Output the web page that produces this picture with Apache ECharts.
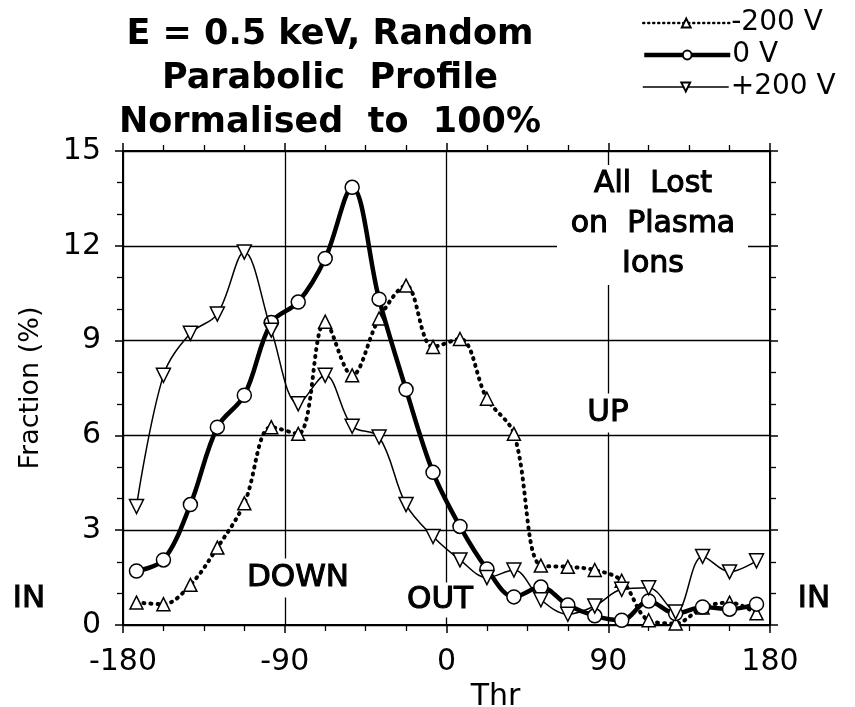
<!DOCTYPE html>
<html>
<head>
<meta charset="utf-8">
<script src="https://cdn.jsdelivr.net/npm/echarts@6/dist/echarts.min.js"></script>
<style>html,body{margin:0;padding:0;background:#fff;}#c{width:855px;height:707px;}</style>
</head>
<body>
<div id="c"></div>
<script>
// Angles (Thr, degrees) at which the points are plotted
const thr = [-172.5,-157.5,-142.5,-127.5,-112.5,-97.5,-82.5,-67.5,-52.5,-37.5,-22.5,-7.5,
             7.5,22.5,37.5,52.5,67.5,82.5,97.5,112.5,127.5,142.5,157.5,172.5];
const seriesNames = ['-200 V', '0 V', '+200 V'];
const vMinus200 = [0.71,0.66,1.27,2.45,3.85,6.26,6.05,9.6,7.9,9.7,10.74,8.8,
                   9.05,7.16,6.05,1.88,1.84,1.74,1.4,0.15,0.05,0.55,0.71,0.37];
const vZero     = [1.71,2.06,3.81,6.26,7.27,9.57,10.22,11.6,13.85,10.31,7.45,4.83,
                   3.12,1.77,0.89,1.2,0.63,0.29,0.15,0.76,0.36,0.57,0.5,0.66];
const vPlus200  = [3.75,7.9,9.23,9.84,11.8,9.33,7.0,7.9,6.29,5.95,3.81,2.8,
                   2.06,1.5,1.74,0.8,0.34,0.6,1.13,1.18,0.41,2.17,1.68,2.03];
const xTicks = [-180, -90, 0, 90, 180];
const yTicks = [0, 3, 6, 9, 12, 15];

const FONT = 'DejaVu Sans';
const pair = v => thr.map((t, i) => [t, v[i]]);

const chart = echarts.init(document.getElementById('c'), null, {renderer: 'canvas'});

const axisLine = {show: true, onZero: false, lineStyle: {color: '#000', width: 2}};
const baseX = {
  type: 'value', min: xTicks[0], max: xTicks[xTicks.length - 1], interval: 90,
  axisLine: axisLine,
  axisTick: {show: true, inside: false, length: 8, lineStyle: {color: '#000', width: 1.5}},
  minorTick: {show: true, splitNumber: 4, length: 6, lineStyle: {color: '#000', width: 1.3}},
};
const baseY = {
  type: 'value', min: yTicks[0], max: yTicks[yTicks.length - 1], interval: 3,
  axisLine: axisLine,
  axisTick: {show: true, inside: false, length: 8, lineStyle: {color: '#000', width: 1.5}},
  minorTick: {show: true, splitNumber: 3, length: 6, lineStyle: {color: '#000', width: 1.3}},
};

const sym = {color: '#fff', borderColor: '#000', borderWidth: 1.5};
const legendLines = [
  {color: '#000', width: 2.5, type: [1, 4], cap: 'round'},
  {color: '#000', width: 4.5},
  {color: '#000', width: 1.5}
];
const annot = (text, x, y, bg, pad) => ({
  type: 'text', z: 2, x: x, y: y,
  style: {text: text, fontFamily: FONT, fontSize: 31, fill: '#000',
          stroke: '#000', lineWidth: 1.1,
          align: 'center', verticalAlign: 'middle',
          backgroundColor: bg ? '#fff' : undefined, padding: pad || 0}
});

chart.setOption({
  backgroundColor: '#fff',
  animation: false,
  title: {
    text: 'E = 0.5 keV, Random\nParabolic  Profile\nNormalised  to  100%',
    left: 325, top: 8, textAlign: 'center',
    textStyle: {fontFamily: FONT, fontSize: 35, fontWeight: 'bold', color: '#000', lineHeight: 44}
  },
  legend: [0, 1, 2].map(i => ({
    data: [seriesNames[i]],
    left: 637, top: 4 + i * 32,
    itemWidth: 86, itemHeight: 11, itemGap: 8,
    lineStyle: legendLines[i],
    textStyle: {fontFamily: FONT, fontSize: 28, color: '#000', padding: [0, 0, 0, -3]},
    selectedMode: false
  })),
  grid: {left: 123, right: 85, top: 151, bottom: 82, containLabel: false, outerBoundsMode: 'none'},
  xAxis: [
    Object.assign({}, baseX, {
      position: 'bottom',
      name: 'Thr', nameLocation: 'middle', nameGap: 52,
      nameTextStyle: {fontFamily: FONT, fontSize: 30, color: '#000', padding: [0, 0, 0, 98]},
      axisLabel: {show: true, margin: 22, fontFamily: FONT, fontSize: 30, color: '#000'},
      splitLine: {show: true, lineStyle: {color: '#000', width: 1.3}}
    }),
    Object.assign({}, baseX, {
      position: 'top',
      axisLabel: {show: false}, splitLine: {show: false}
    })
  ],
  yAxis: [
    Object.assign({}, baseY, {
      position: 'left',
      name: 'Fraction (%)', nameLocation: 'middle', nameGap: 79, nameRotate: 90,
      nameTextStyle: {fontFamily: FONT, fontSize: 27, color: '#000'},
      axisLabel: {show: true, margin: 22, fontFamily: FONT, fontSize: 30, color: '#000'},
      splitLine: {show: true, lineStyle: {color: '#000', width: 1.3}}
    }),
    Object.assign({}, baseY, {
      position: 'right',
      axisLabel: {show: false}, splitLine: {show: false}
    })
  ],
  graphic: [
    {type: 'rect', z: 1, shape: {x: 557, y: 165, width: 191, height: 120}, style: {fill: '#fff'}},
    {type: 'text', z: 2, x: 653, y: 164,
      style: {text: 'All  Lost\non  Plasma\nIons', fontFamily: FONT, fontSize: 30, fill: '#000',
              stroke: '#000', lineWidth: 1.1, align: 'center', lineHeight: 40}},
    annot('UP', 608, 413, true, [4, 4]),
    annot('DOWN', 298, 578, true, [4, 4]),
    annot('OUT', 440, 600, true, [2, 2]),
    annot('IN', 29, 599, false),
    annot('IN', 814, 599, false)
  ],
  series: [
    {
      name: seriesNames[0], type: 'line', data: pair(vMinus200), smooth: 0.35, z: 3,
      symbol: 'triangle', symbolSize: 13, itemStyle: sym,
      lineStyle: {color: '#000', width: 4, type: [1, 6], cap: 'round'}
    },
    {
      name: seriesNames[1], type: 'line', data: pair(vZero), smooth: 0.35, z: 4,
      symbol: 'circle', symbolSize: 14, itemStyle: sym,
      lineStyle: {color: '#000', width: 4.5}
    },
    {
      name: seriesNames[2], type: 'line', data: pair(vPlus200), smooth: 0.35, z: 5,
      symbol: 'triangle', symbolRotate: 180, symbolSize: 14, itemStyle: sym,
      lineStyle: {color: '#000', width: 1.5}
    }
  ]
});
</script>
</body>
</html>
